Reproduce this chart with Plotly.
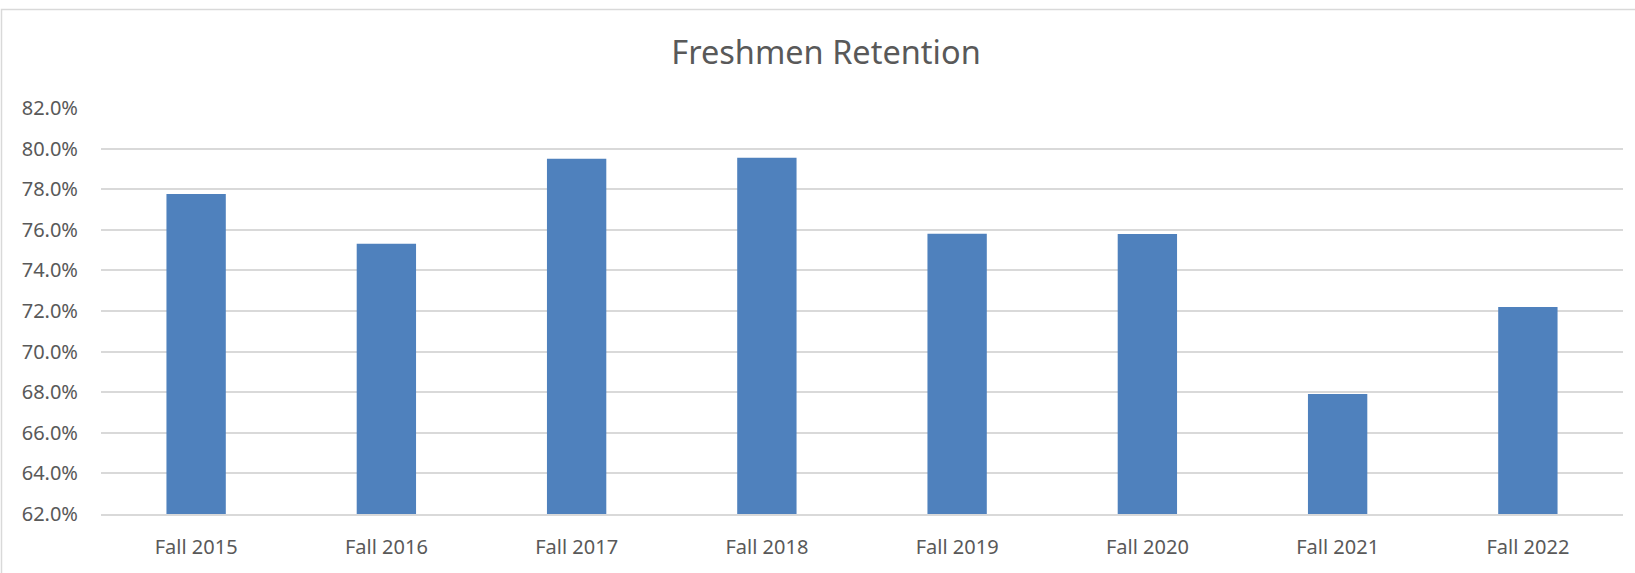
import plotly.graph_objects as go

categories = ["Fall 2015", "Fall 2016", "Fall 2017", "Fall 2018",
              "Fall 2019", "Fall 2020", "Fall 2021", "Fall 2022"]
retention = [77.76, 75.31, 79.50, 79.55, 75.80, 75.79, 67.91, 72.20]

W, H = 1635, 573
ml, mr, mt, mb = 101, 12, 108, 59
pw = W - ml - mr
ph = H - mt - mb

FONT = "Noto Sans, Lato, DejaVu Sans, sans-serif"
TXT = "#595959"
GRID = "#D9D9D9"

fig = go.Figure(go.Bar(
    x=categories, y=retention,
    marker=dict(color="#4F81BD", line=dict(width=0)),
    hoverinfo="x+y",
))

# chart-area border (top and left visible, rest cropped)
def px_to_paper_x(px):
    return (px - ml) / pw

def px_to_paper_y(py):
    return 1 - (py - mt) / ph

fig.add_shape(type="rect", xref="paper", yref="paper",
              x0=px_to_paper_x(1.5), x1=px_to_paper_x(W + 20),
              y0=px_to_paper_y(H + 20), y1=px_to_paper_y(9.5),
              line=dict(color=GRID, width=1.5), fillcolor="rgba(0,0,0,0)",
              layer="below")

fig.update_layout(
    width=W, height=H,
    margin=dict(l=ml, r=mr, t=mt, b=mb),
    paper_bgcolor="white", plot_bgcolor="white",
    bargap=0.688,
    showlegend=False,
    title=dict(text="Freshmen Retention", x=826 / W, xref="container", xanchor="center",
               y=1 - 53 / H, yref="container", yanchor="middle",
               font=dict(family=FONT, size=32.5, color=TXT)),
    font=dict(family=FONT, color=TXT),
    xaxis=dict(
        type="category",
        showgrid=False,
        showline=True, linecolor=GRID, linewidth=1.5,
        ticks="", ticklabelstandoff=14,
        tickfont=dict(family=FONT, size=20, color=TXT),
        fixedrange=True,
    ),
    yaxis=dict(
        range=[62, 82], dtick=2, tick0=62,
        tickformat=".1f", ticksuffix="%",
        showgrid=True, gridcolor=GRID, gridwidth=1.5,
        zeroline=False, showline=False,
        ticks="", ticklabelstandoff=22,
        tickfont=dict(family=FONT, size=20, color=TXT),
        fixedrange=True,
    ),
)

fig.write_html("out.html", config={"displayModeBar": False},
               post_script="document.body.style.margin='0';")
